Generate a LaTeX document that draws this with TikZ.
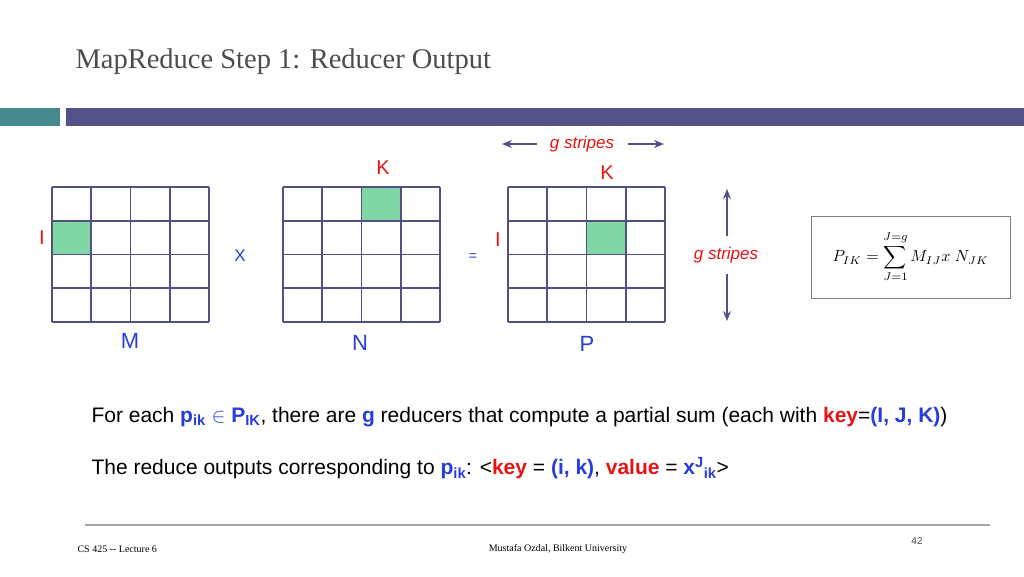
\documentclass[tikz,border=0pt]{standalone}
\usepackage{fontspec}
\setmainfont{Liberation Sans}
\newfontfamily\serifface{Liberation Serif}
\usepackage{xcolor}
\usepackage{tikz}
\usetikzlibrary{calc,arrows.meta}
\definecolor{navy}{RGB}{82,82,136}
\definecolor{tealbar}{RGB}{70,138,142}
\definecolor{cellgreen}{RGB}{128,214,164}
\definecolor{gridline}{RGB}{80,80,130}
\definecolor{hiblue}{RGB}{40,60,220}
\definecolor{hired}{RGB}{230,20,20}
\newcommand{\kb}[1]{\textcolor{hiblue}{\textbf{#1}}}
\newcommand{\kr}[1]{\textcolor{hired}{\textbf{#1}}}

\begin{document}
\begin{tikzpicture}[x=1pt,y=-1pt,
    gridpen/.style={draw=gridline,line width=1.6pt},
    redlbl/.style={text=hired,font=\fontsize{20}{22}\selectfont},
    bluelbl/.style={text=hiblue,font=\fontsize{22}{24}\selectfont},
    bodytext/.style={anchor=west,font=\fontsize{21}{24}\selectfont},
    striparrow/.style={-{Stealth[length=10pt,width=8pt]},navy,line width=1.8pt}]

    % canvas
    \useasboundingbox (0,0) rectangle (1024,576);
    \fill[white] (0,0) rectangle (1024,576);

    % title and bars
    \node[anchor=west,text=black!70,font=\serifface\fontsize{28.5}{32}\selectfont] (title) at (72,62) {MapReduce Step 1: Reducer Output};
    \fill[tealbar] (0,108) rectangle (60,126);
    \fill[navy] (66,108) rectangle (1024,126);

    %green cells
    \fill[cellgreen] (52,221) rectangle (91,254);
    \fill[cellgreen] (361,187) rectangle (400,221);
    \fill[cellgreen] (586,221) rectangle (626,254);

    %grids
    \foreach \x in {52,283,508}{
      \foreach \i in {0,...,4}
        \draw[gridpen] (\x+\i*39.25,187) -- (\x+\i*39.25,322);
      \foreach \j in {0,...,4}
        \draw[gridpen] (\x,187+\j*33.75) -- (\x+157,187+\j*33.75);
    }

    %labels
    \node[redlbl] (kn) at (383,168) {K};
    \node[redlbl] (kp) at (607,173) {K};
    \node[redlbl] (im) at (42,238) {I};
    \node[redlbl] (ip) at (498,240) {I};
    \node[text=hiblue,font=\fontsize{17}{19}\selectfont] (times) at (240,256) {X};
    \node[text=hiblue,font=\fontsize{14}{16}\selectfont] (eq) at (473,257) {=};
    \node[bluelbl] (m) at (130,341) {M};
    \node[bluelbl] (n) at (360,343) {N};
    \node[bluelbl] (p) at (587,344) {P};

    %g stripes
    \node[text=hired,font=\itshape\fontsize{17}{19}\selectfont] (gh) at (582,144) {g stripes};
    \coordinate (ghl) at (502,144);
    \coordinate (ghr) at (664,144);
    \draw[striparrow] (537,144) -- (ghl);
    \draw[striparrow] (628,144) -- (ghr);
    \node[text=hired,font=\itshape\fontsize{17}{19}\selectfont] (gv) at (726,255) {g stripes};
    \coordinate (gvt) at (727,189);
    \coordinate (gvb) at (727,321);
    \draw[striparrow,line width=1.2pt] (727,236) -- (gvt);
    \draw[striparrow,line width=1.2pt] (727,274) -- (gvb);

    %formula
    \node[draw=black!50,line width=0.8pt,minimum width=199pt,minimum height=82pt] (formula) at (910.5,257) {};
    \node[scale=1.6,transform shape] (sum) at (formula.center)
      {$\displaystyle P_{IK} = \sum_{J=1}^{J=g} M_{IJ}x\;N_{JK}$};

    %body text
    \node[bodytext] (line1) at (88,417) {For each \kb{p\textsubscript{ik}} \textcolor{hiblue}{$\in$} \kb{P\textsubscript{IK}}, there are \kb{g} reducers that compute a partial sum (each with \kr{key}=\kb{(I, J, K)})};
    \node[bodytext] (line2) at (88,468) {The reduce outputs corresponding to \kb{p\textsubscript{ik}}: <\kr{key} = \kb{(i, k)}, \kr{value} = \kb{x\textsuperscript{J}\textsubscript{ik}}>};

    %footer
    \draw[black!35,line width=1.2pt] (85,525) -- (990,525);
    \node[anchor=west,font=\serifface\fontsize{10}{12}\selectfont] (course) at (74,549) {CS 425 -- Lecture 6};
    \node[font=\serifface\fontsize{10}{12}\selectfont] (author) at (558,549) {Mustafa Ozdal, Bilkent University};
    \node[font=\fontsize{10}{12}\selectfont,text=black!70] (pg) at (917,541) {42};
\end{tikzpicture}
\end{document}
